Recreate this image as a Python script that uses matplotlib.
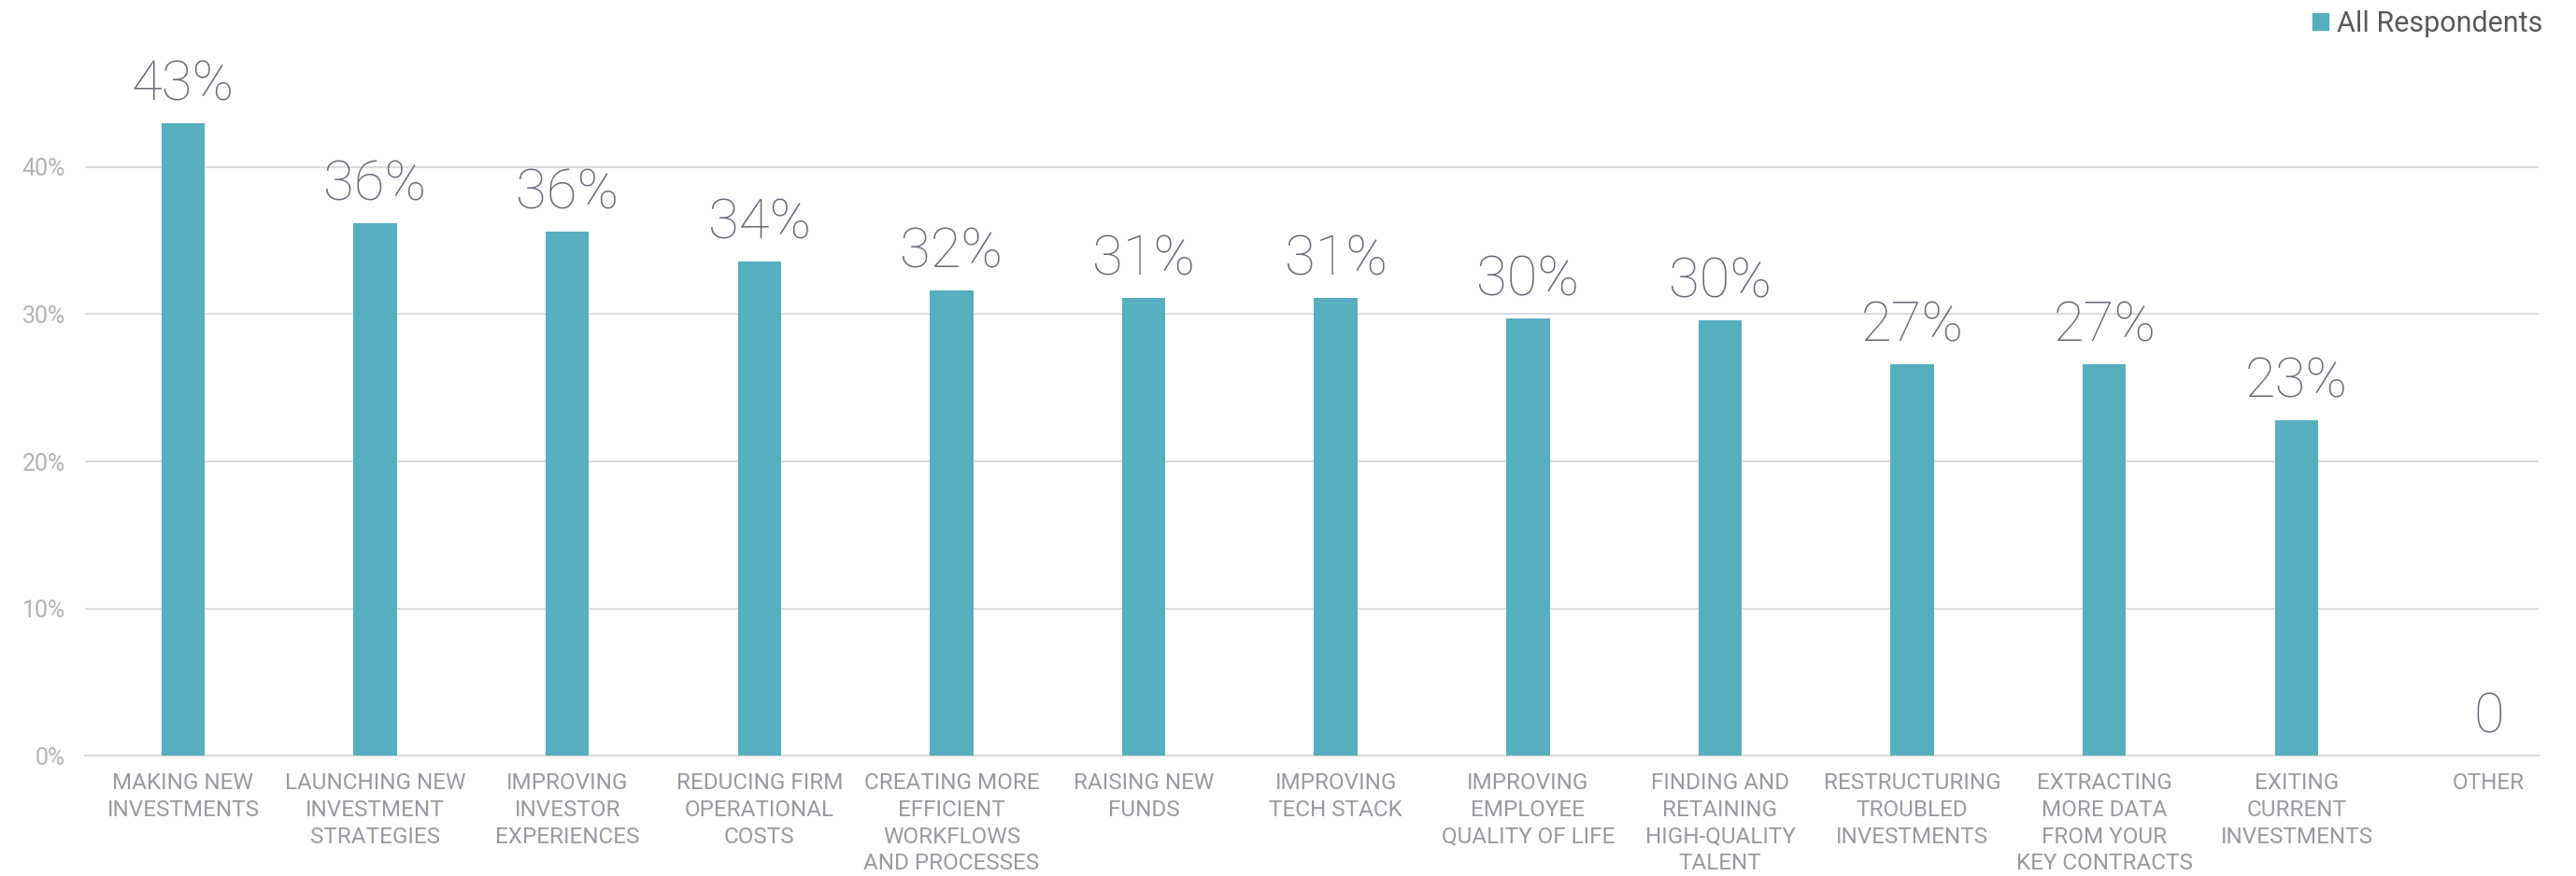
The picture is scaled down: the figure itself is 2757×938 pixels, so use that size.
import matplotlib
matplotlib.use("Agg")
import matplotlib.pyplot as plt
from matplotlib.patches import Patch
from matplotlib.ticker import FuncFormatter

categories = [
    "MAKING NEW\nINVESTMENTS",
    "LAUNCHING NEW\nINVESTMENT\nSTRATEGIES",
    "IMPROVING\nINVESTOR\nEXPERIENCES",
    "REDUCING FIRM\nOPERATIONAL\nCOSTS",
    "CREATING MORE\nEFFICIENT\nWORKFLOWS\nAND PROCESSES",
    "RAISING NEW\nFUNDS",
    "IMPROVING\nTECH STACK",
    "IMPROVING\nEMPLOYEE\nQUALITY OF LIFE",
    "FINDING AND\nRETAINING\nHIGH-QUALITY\nTALENT",
    "RESTRUCTURING\nTROUBLED\nINVESTMENTS",
    "EXTRACTING\nMORE DATA\nFROM YOUR\nKEY CONTRACTS",
    "EXITING\nCURRENT\nINVESTMENTS",
    "OTHER",
]
values = [0.430, 0.362, 0.356, 0.336, 0.316, 0.311, 0.311, 0.297, 0.296, 0.266, 0.266, 0.228, 0.0]
series_name = "All Respondents"

bar_color = "#56aebf"
grid_color = "#dcdcdc"
value_color = "#6b6b78"
cat_color = "#9a9aa2"
ytick_color = "#b4b4b8"

plt.rcParams['font.family'] = ['Roboto', 'DejaVu Sans']

fig = plt.figure(figsize=(27.57, 9.38), dpi=100)
ax = fig.add_axes([91 / 2757, 1 - 809 / 938, (2717 - 91) / 2757, 787.5 / 938])

x = list(range(len(categories)))
ax.bar(x, values, width=0.226, color=bar_color, zorder=3)

# value labels above each bar; a zero value is shown without the percent sign
for xi, v in zip(x, values):
    label = "0" if v == 0 else "%d%%" % int(v * 100 + 0.5)
    ax.annotate(label, (xi, v), xytext=(0, 9), textcoords="offset points",
                ha="center", va="bottom", fontsize=43, color=value_color,
                fontweight="light")

ax.set_xlim(-0.51, 12.26)
ax.set_ylim(0, 0.5)
ax.set_yticks([0, 0.1, 0.2, 0.3, 0.4])
ax.yaxis.set_major_formatter(FuncFormatter(lambda v, p: "%d%%" % round(v * 100)))
ax.grid(axis="y", color=grid_color, linewidth=1.5, zorder=0)
ax.set_axisbelow(True)

ax.set_xticks(x)
ax.set_xticklabels(categories, fontsize=17.5, color=cat_color, linespacing=1.32)
ax.tick_params(axis="x", length=0, pad=13)
ax.tick_params(axis="y", length=0, pad=15, labelsize=18, labelcolor=ytick_color)

for s in ["top", "right", "left"]:
    ax.spines[s].set_visible(False)
ax.spines["bottom"].set_color(grid_color)
ax.spines["bottom"].set_linewidth(1.5)

fig.legend(handles=[Patch(color=bar_color, label=series_name)],
           loc="upper right", bbox_to_anchor=(2749 / 2757, 1.018),
           frameon=False, fontsize=22, handlelength=0.55, handleheight=0.55,
           handletextpad=0.3, labelcolor="#5a5a5a")

fig.savefig("out.png", dpi=100)
